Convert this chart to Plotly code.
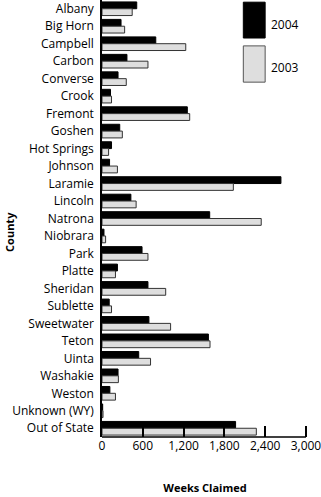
import plotly.graph_objects as go

counties = ["Albany", "Big Horn", "Campbell", "Carbon", "Converse", "Crook", "Fremont",
            "Goshen", "Hot Springs", "Johnson", "Laramie", "Lincoln", "Natrona", "Niobrara",
            "Park", "Platte", "Sheridan", "Sublette", "Sweetwater", "Teton", "Uinta",
            "Washakie", "Weston", "Unknown (WY)", "Out of State"]
weeks_2004 = [511, 280, 791, 367, 236, 125, 1255, 261, 140, 111, 2632, 425, 1584, 29,
              589, 227, 676, 106, 690, 1565, 540, 236, 116, 10, 1965]
weeks_2003 = [444, 333, 1232, 676, 357, 140, 1290, 299, 97, 227, 1932, 502, 2342, 53,
              676, 198, 937, 140, 1009, 1589, 714, 241, 198, 15, 2270]
x_ticks = [0, 600, 1200, 1800, 2400, 3000]
series_names = ["2004", "2003"]

FONT = "Open Sans"

fig = go.Figure()
fig.add_trace(go.Bar(y=counties, x=weeks_2004, orientation="h", name=series_names[0],
                     marker=dict(color="#000000", line=dict(color="#000000", width=1))))
fig.add_trace(go.Bar(y=counties, x=weeks_2003, orientation="h", name=series_names[1],
                     marker=dict(color="#dedede", line=dict(color="#333333", width=1))))

fig.update_layout(
    width=321, height=497,
    margin=dict(l=102, r=10, t=0, b=60),
    barmode="group", bargap=0.22, bargroupgap=0,
    showlegend=False,
    plot_bgcolor="white", paper_bgcolor="white",
    font=dict(family=FONT, size=12, color="#000000"),
)
fig.update_xaxes(
    range=[0, 3030], tickvals=x_ticks, tickformat=",", showgrid=False, zeroline=False,
    showline=False,
    ticks="inside", ticklen=11, tickwidth=1.5, tickcolor="#000000",
    tickfont=dict(size=12), ticklabeloverflow="allow",
    title=dict(text="<b>Weeks Claimed</b>", font=dict(size=11), standoff=31),
)
fig.update_yaxes(
    autorange="reversed", showgrid=False, zeroline=False,
    showline=True, linecolor="#000000", linewidth=1.5, ticks="",
    tickfont=dict(size=12), ticklabelstandoff=4,
)

# bottom axis line ending at the last tick (3000)
fig.add_shape(type="line", xref="x", yref="paper", x0=0, x1=x_ticks[-1], y0=0, y1=0,
              line=dict(color="#000000", width=1.5))

fig.add_annotation(x=-0.45, y=0.47, xref="paper", yref="paper", text="<b>County</b>",
                   textangle=-90, showarrow=False, xanchor="center", yanchor="middle",
                   font=dict(size=11))

# legend swatches
fig.add_shape(type="rect", xref="paper", yref="paper", x0=0.686, x1=0.792, y0=0.913, y1=0.995,
              fillcolor="#000000", line=dict(color="#000000", width=1))
fig.add_shape(type="rect", xref="paper", yref="paper", x0=0.686, x1=0.792, y0=0.812, y1=0.895,
              fillcolor="#dedede", line=dict(color="#555555", width=1))
fig.add_annotation(x=0.81, y=0.943, xref="paper", yref="paper", text=series_names[0],
                   showarrow=False, xanchor="left", yanchor="middle", font=dict(size=12))
fig.add_annotation(x=0.81, y=0.845, xref="paper", yref="paper", text=series_names[1],
                   showarrow=False, xanchor="left", yanchor="middle", font=dict(size=12))

fig.write_html("out.html")
